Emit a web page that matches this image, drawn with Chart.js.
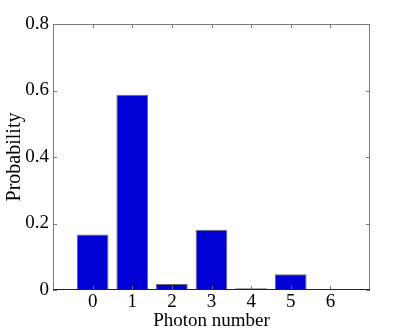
<!DOCTYPE html>
<html>
<head>
<meta charset="utf-8">
<script src="https://cdn.jsdelivr.net/npm/chart.js@4/dist/chart.umd.min.js"></script>
<style>
  html, body { margin: 0; padding: 0; background: #fff; }
  #wrap { width: 408px; height: 332px; }
</style>
</head>
<body>
<div id="wrap"><canvas id="chart" width="408" height="332"></canvas></div>
<script>
const photonNumbers = [0, 1, 2, 3, 4, 5, 6];
const probabilities = [0.167, 0.587, 0.018, 0.181, 0.005, 0.047, 0];
const yTicks = [0, 0.2, 0.4, 0.6, 0.8];

// axis box + inward ticks, matlab style
const boxTicks = {
  id: 'boxTicks',
  afterDraw(chart) {
    const { ctx, chartArea: a, scales } = chart;
    const len = 4;
    ctx.save();
    ctx.lineWidth = 1;
    ctx.strokeStyle = '#7a7a7a';
    ctx.beginPath();
    ctx.moveTo(a.left + 0.5, a.bottom);
    ctx.lineTo(a.left + 0.5, a.top + 0.5);
    ctx.lineTo(a.right - 0.5, a.top + 0.5);
    ctx.lineTo(a.right - 0.5, a.bottom);
    photonNumbers.forEach(v => {
      const x = Math.round(scales.x.getPixelForValue(v)) + 0.5;
      ctx.moveTo(x, a.top);
      ctx.lineTo(x, a.top + len);
      ctx.moveTo(x, a.bottom);
      ctx.lineTo(x, a.bottom - len);
    });
    yTicks.forEach(v => {
      const y = Math.round(scales.y.getPixelForValue(v)) + 0.5;
      ctx.moveTo(a.left, y);
      ctx.lineTo(a.left + len, y);
      ctx.moveTo(a.right, y);
      ctx.lineTo(a.right - len, y);
    });
    ctx.stroke();
    ctx.strokeStyle = '#222';
    ctx.beginPath();
    ctx.moveTo(a.left, a.bottom - 0.5);
    ctx.lineTo(a.right, a.bottom - 0.5);
    ctx.stroke();
    ctx.restore();
  }
};

const serif = "'Liberation Serif', 'DejaVu Serif', serif";

new Chart(document.getElementById('chart'), {
  type: 'bar',
  data: {
    datasets: [{
      data: photonNumbers.map((n, i) => ({ x: n, y: probabilities[i] })),
      backgroundColor: 'rgb(0,0,212)',
      borderColor: '#6a6a6a',
      borderWidth: 1,
      categoryPercentage: 0.8,
      barPercentage: 1
    }]
  },
  options: {
    responsive: false,
    animation: false,
    layout: { padding: { left: 0, right: 38, top: 24, bottom: 0 } },
    plugins: { legend: { display: false }, tooltip: { enabled: false } },
    scales: {
      x: {
        type: 'linear',
        min: -1,
        max: 7,
        offset: false,
        afterBuildTicks: s => { s.ticks = photonNumbers.map(v => ({ value: v })); },
        afterFit: s => { s.height = 42; },
        grid: { display: false, drawTicks: false },
        border: { display: false },
        ticks: { font: { family: serif, size: 19 }, color: '#000', padding: 1, maxRotation: 0, autoSkip: false },
        title: { display: true, text: 'Photon number', font: { family: serif, size: 19 }, color: '#000', padding: { top: -5, bottom: 0 } }
      },
      y: {
        min: 0,
        max: 0.8,
        afterBuildTicks: s => { s.ticks = yTicks.map(v => ({ value: v })); },
        afterFit: s => { s.width = 53; },
        grid: { display: false, drawTicks: false },
        border: { display: false },
        ticks: {
          font: { family: serif, size: 19 }, color: '#000', padding: 4,
          callback: v => v === 0 ? '0' : v.toFixed(1)
        },
        title: { display: true, text: 'Probability', font: { family: serif, size: 20 }, color: '#000', padding: { top: 3, bottom: 0 } }
      }
    }
  },
  plugins: [boxTicks]
});
</script>
</body>
</html>
